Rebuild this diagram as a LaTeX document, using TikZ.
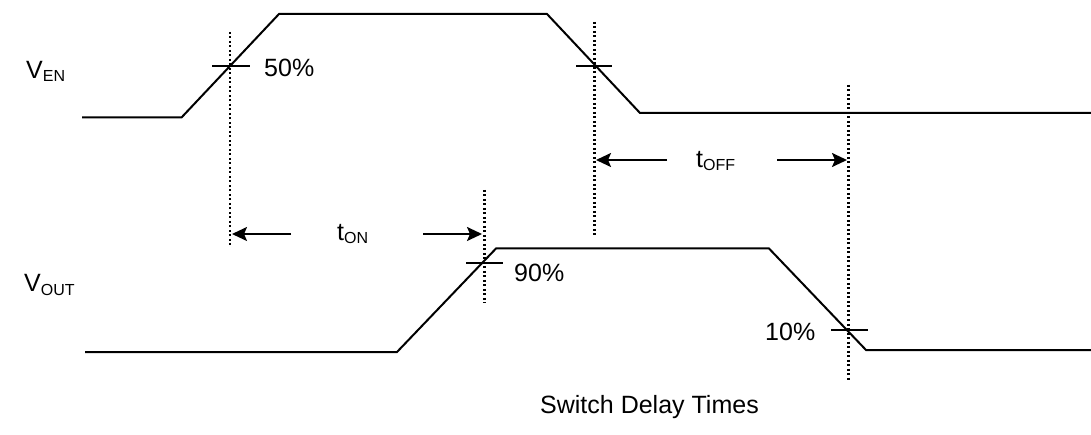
\documentclass[tikz,border=0pt]{standalone}
\usepackage{fontspec}
\setmainfont{Liberation Sans}
\usetikzlibrary{arrows.meta}
\newcommand{\lowsub}[1]{\raisebox{-3pt}{\fontsize{16}{19}\selectfont #1}}
\begin{document}
\begin{tikzpicture}[x=1pt,y=-1pt,
  sig/.style={line width=2pt, line join=miter},
  guide/.style={line width=2.2pt, dash pattern=on 2pt off 2.5pt},
  tickmark/.style={line width=2pt},
  dim/.style={line width=2pt, -{Stealth[length=15pt,width=14pt,inset=3pt]}},
  lbl/.style={anchor=base west, inner sep=0pt, font=\fontsize{25}{29}\selectfont},
]
\useasboundingbox (0,0) rectangle (1091,435);

% V_EN waveform
\coordinate (e0) at (82,117.5);
\coordinate (e1) at (181.5,117.5);
\coordinate (e2) at (279,14);
\coordinate (e3) at (547,14);
\coordinate (e4) at (640,113);
\coordinate (e5) at (1091,113);
\draw[sig] (e0) -- (e1) -- (e2) -- (e3) -- (e4) -- (e5);

% V_OUT waveform
\coordinate (o0) at (85,352);
\coordinate (o1) at (397,352);
\coordinate (o2) at (496,248.5);
\coordinate (o3) at (769,248.5);
\coordinate (o4) at (866,350);
\coordinate (o5) at (1091,350);
\draw[sig] (o0) -- (o1) -- (o2) -- (o3) -- (o4) -- (o5);

% dotted guides
\coordinate (g1t) at (230,32);   \coordinate (g1b) at (230,247);
\coordinate (g2t) at (594.5,22); \coordinate (g2b) at (594.5,237);
\coordinate (g3t) at (484.5,190);\coordinate (g3b) at (484.5,303);
\coordinate (g4t) at (848.5,85); \coordinate (g4b) at (848.5,380);
\draw[guide] (g1t) -- (g1b);
\draw[guide] (g2t) -- (g2b);
\draw[guide] (g3t) -- (g3b);
\draw[guide] (g4t) -- (g4b);

% tick marks
\coordinate (t1a) at (212,66.5);  \coordinate (t1b) at (250,66.5);
\coordinate (t2a) at (576,65.7);  \coordinate (t2b) at (612,65.7);
\coordinate (t3a) at (466,263);   \coordinate (t3b) at (503,263);
\coordinate (t4a) at (831,330);   \coordinate (t4b) at (868,330);
\draw[tickmark] (t1a) -- (t1b);
\draw[tickmark] (t2a) -- (t2b);
\draw[tickmark] (t3a) -- (t3b);
\draw[tickmark] (t4a) -- (t4b);

% dimension arrows
\coordinate (on1) at (291,234); \coordinate (on1t) at (232,234);
\coordinate (on2) at (423,234); \coordinate (on2t) at (482,234);
\coordinate (of1) at (667,160); \coordinate (of1t) at (596,160);
\coordinate (of2) at (777,160); \coordinate (of2t) at (847,160);
\draw[dim] (on1) -- (on1t);
\draw[dim] (on2) -- (on2t);
\draw[dim] (of1) -- (of1t);
\draw[dim] (of2) -- (of2t);

% labels
\node[lbl] (ven) at (26,79) {V\lowsub{EN}};
\node[lbl] (vout) at (24,292) {V\lowsub{OUT}};
\node[lbl] (p50) at (264,77) {50\%};
\node[lbl] (p90) at (514,282) {90\%};
\node[lbl] (p10) at (765,340) {10\%};
\node[lbl] (ton) at (337,241) {t\lowsub{ON}};
\node[lbl] (toff) at (696,168) {t\lowsub{OFF}};
\node[lbl] (cap) at (540,413) {Switch Delay Times};
\end{tikzpicture}
\end{document}
